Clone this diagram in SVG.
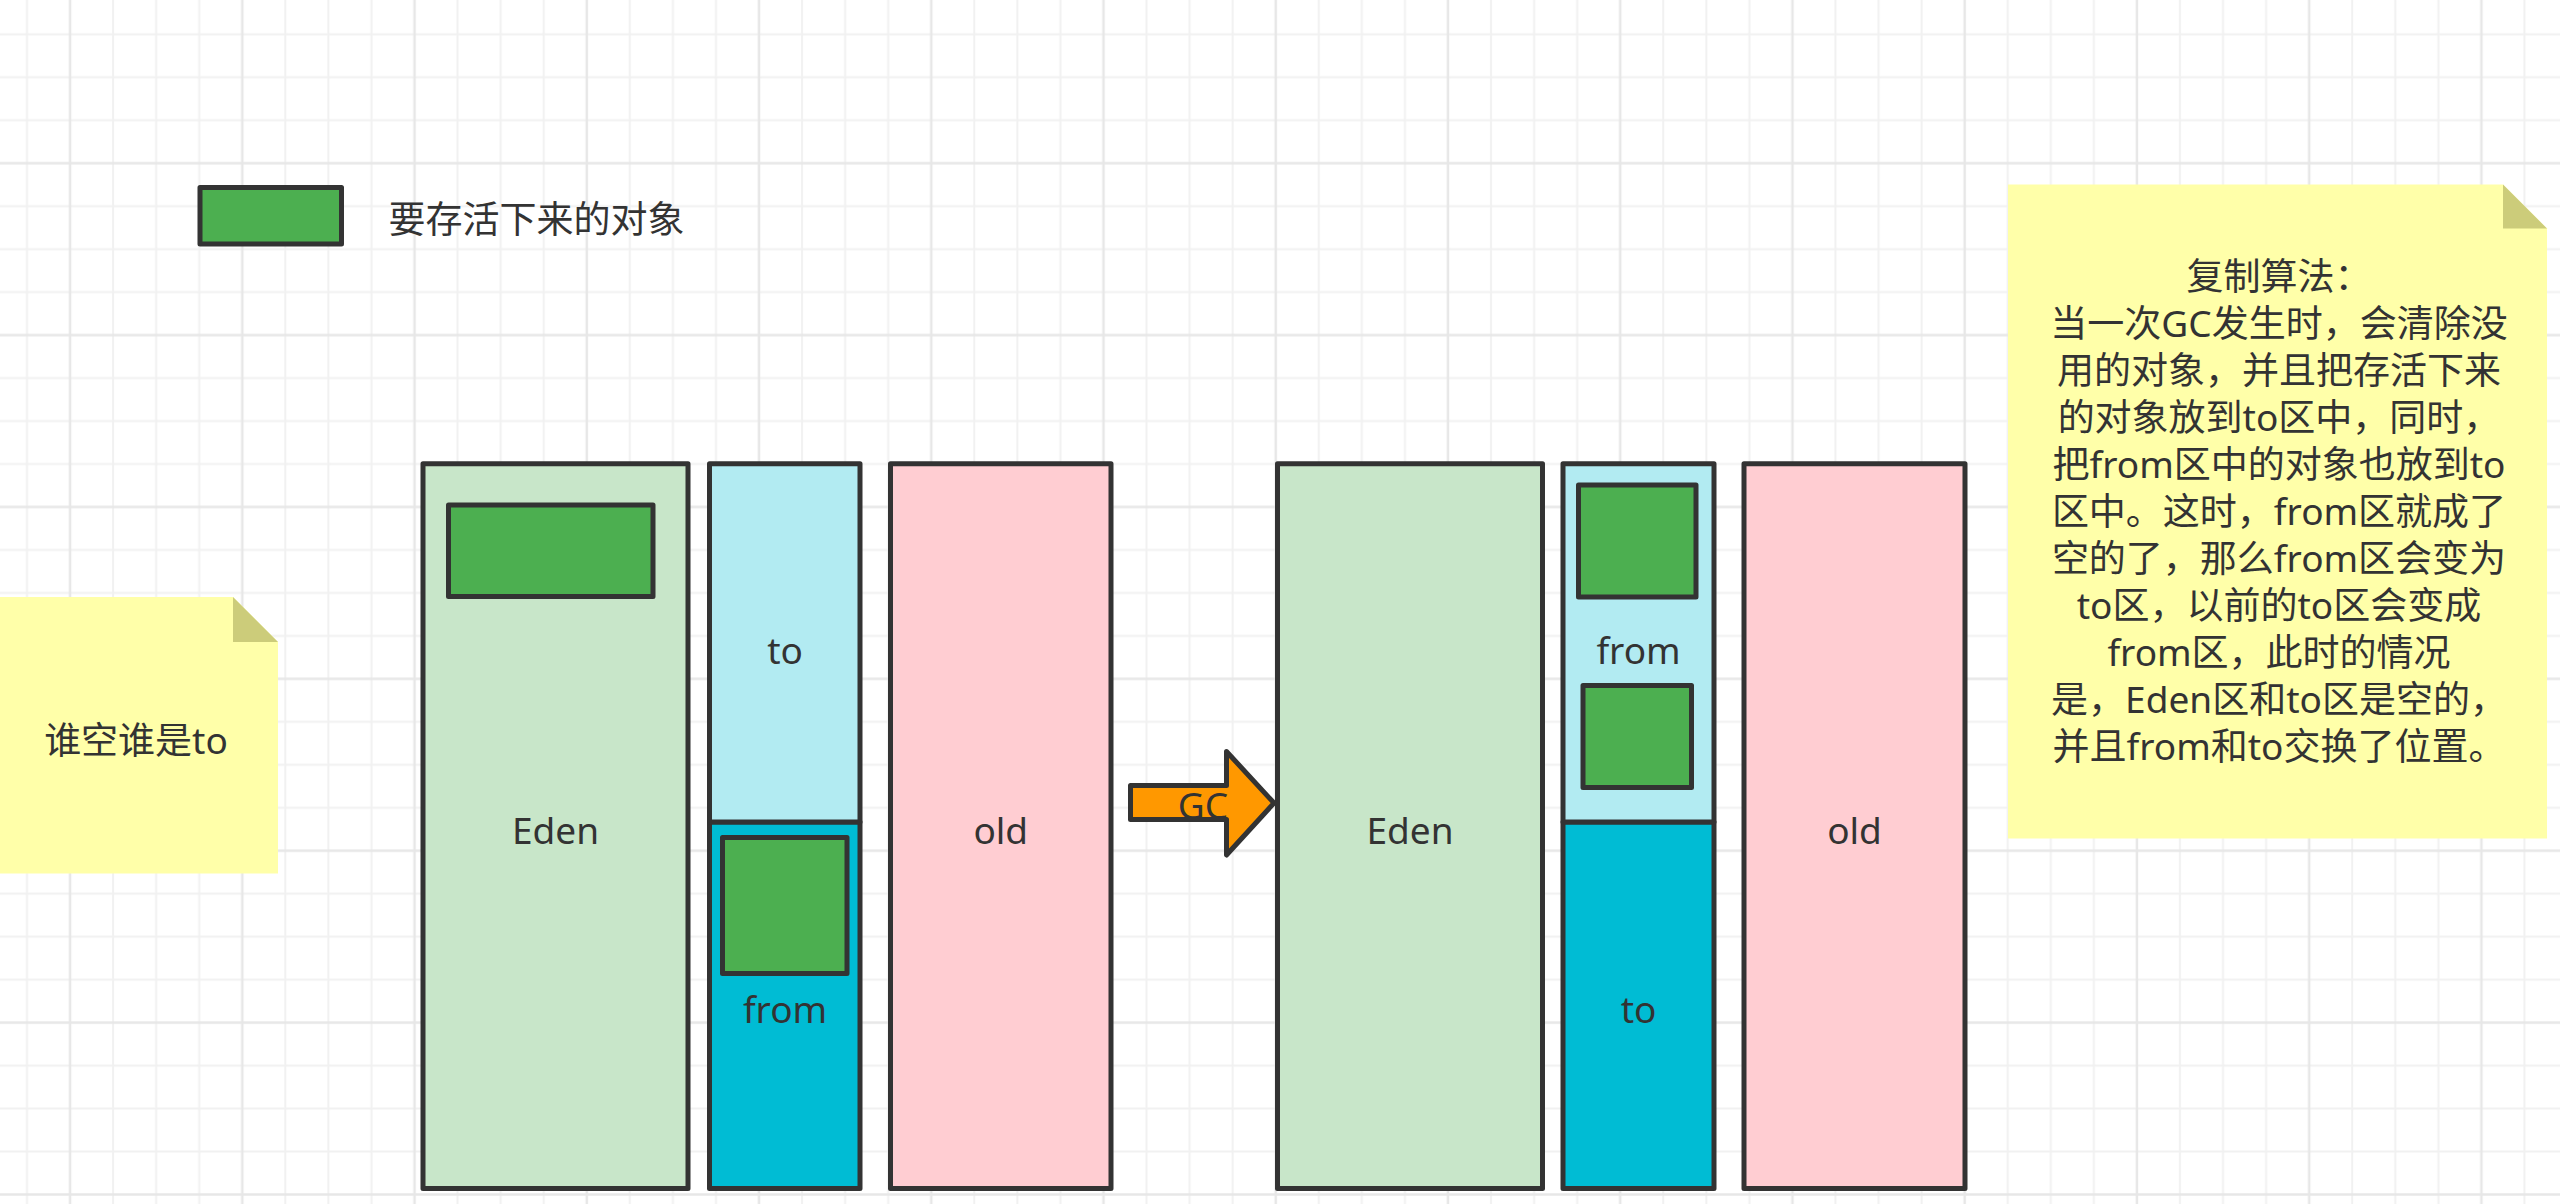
<svg xmlns="http://www.w3.org/2000/svg" width="2560" height="1204" viewBox="0 0 2560 1204">
  <defs>
    <pattern id="grid" patternUnits="userSpaceOnUse" x="5.47" y="12.815" width="172.24" height="171.88">
      <g stroke="#f1f1f1" stroke-width="2" fill="none">
        <line x1="21.53" y1="0" x2="21.53" y2="171.88"/>
        <line x1="107.65" y1="0" x2="107.65" y2="171.88"/>
        <line x1="150.71" y1="0" x2="150.71" y2="171.88"/>
        <line x1="0" y1="21.485" x2="172.24" y2="21.485"/>
        <line x1="0" y1="64.455" x2="172.24" y2="64.455"/>
        <line x1="0" y1="107.425" x2="172.24" y2="107.425"/>
      </g>
      <g stroke="#e7e7e7" stroke-width="2.5" fill="none">
        <line x1="64.59" y1="0" x2="64.59" y2="171.88"/>
        <line x1="0" y1="150.395" x2="172.24" y2="150.395"/>
      </g>
    </pattern>
  </defs>
  <style>
    .box { stroke: #333333; stroke-width: 5; stroke-linejoin: round; }
    .eden { fill: #c8e6c9; }
    .light { fill: #b2ebf2; }
    .dark { fill: #00bcd4; }
    .old { fill: #ffcdd2; }
    .obj { fill: #4caf50; }
    .note { fill: #ffffa9; }
    .fold { fill: #cccc7a; }
    .lbl { font-family: "Noto Sans", "Noto Sans CJK SC", sans-serif; font-size: 37px; fill: #333333; text-anchor: middle; }
    .txt { font-family: "Noto Sans", "Noto Sans CJK SC", sans-serif; font-size: 37px; fill: #333333; }
  </style>

  <rect x="0" y="0" width="2560" height="1204" fill="#ffffff"/>
  <rect x="0" y="0" width="2560" height="1204" fill="url(#grid)"/>

  <!-- legend -->
  <g id="legend">
    <rect class="box obj" x="200" y="187.5" width="141.5" height="56.5"/>
    <text class="txt" x="388.6" y="233">要存活下来的对象</text>
  </g>

  <!-- left note -->
  <g id="note-left">
    <path class="note" d="M-5,597 L233,597 L278,642 L278,873.5 L-5,873.5 Z"/>
    <path class="fold" d="M233,597 L233,642 L278,642 Z"/>
    <text class="lbl" x="136" y="754">谁空谁是to</text>
  </g>

  <!-- before GC -->
  <g id="eden-before">
    <rect class="box eden" x="423" y="463.7" width="265" height="724.8"/>
    <text class="lbl" x="555.5" y="844">Eden</text>
  </g>
  <g id="obj-eden-before">
    <rect class="box obj" x="448.5" y="505" width="204.5" height="91.5"/>
  </g>
  <g id="from-before">
    <rect class="box dark" x="709.5" y="822" width="150.5" height="366.5"/>
    <text class="lbl" x="785" y="1023">from</text>
  </g>
  <g id="to-before">
    <rect class="box light" x="709.5" y="463.7" width="150.5" height="358.3"/>
    <text class="lbl" x="785" y="664">to</text>
  </g>
  <g id="obj-from-before">
    <rect class="box obj" x="722.5" y="837.5" width="124.5" height="136"/>
  </g>
  <g id="old-before">
    <rect class="box old" x="890.5" y="463.7" width="220.5" height="724.8"/>
    <text class="lbl" x="1000.75" y="844">old</text>
  </g>

  <!-- after GC -->
  <g id="eden-after">
    <rect class="box eden" x="1277.5" y="463.7" width="265" height="724.8"/>
    <text class="lbl" x="1410" y="844">Eden</text>
  </g>
  <g id="to-after">
    <rect class="box dark" x="1563" y="822" width="151" height="366.5"/>
    <text class="lbl" x="1638.5" y="1023">to</text>
  </g>
  <g id="from-after">
    <rect class="box light" x="1563" y="463.7" width="151" height="358.3"/>
    <text class="lbl" x="1638.5" y="664">from</text>
  </g>
  <g id="obj-from-after-1">
    <rect class="box obj" x="1578.5" y="485" width="117.5" height="112"/>
  </g>
  <g id="obj-from-after-2">
    <rect class="box obj" x="1583" y="685.5" width="108.5" height="102"/>
  </g>
  <g id="old-after">
    <rect class="box old" x="1744" y="463.7" width="221" height="724.8"/>
    <text class="lbl" x="1854.5" y="844">old</text>
  </g>

  <!-- right note -->
  <g id="note-right">
    <path class="note" d="M2008,184.5 L2503,184.5 L2547,228.5 L2547,838.5 L2008,838.5 Z"/>
    <path class="fold" d="M2503,184.5 L2503,228.5 L2547,228.5 Z"/>
    <text class="lbl" x="2279" y="290">复制算法：</text>
    <text class="lbl" x="2279" y="337">当一次GC发生时，会清除没</text>
    <text class="lbl" x="2279" y="384">用的对象，并且把存活下来</text>
    <text class="lbl" x="2279" y="431">的对象放到to区中，同时，</text>
    <text class="lbl" x="2279" y="478">把from区中的对象也放到to</text>
    <text class="lbl" x="2279" y="525">区中。这时，from区就成了</text>
    <text class="lbl" x="2279" y="572">空的了，那么from区会变为</text>
    <text class="lbl" x="2279" y="619">to区，以前的to区会变成</text>
    <text class="lbl" x="2279" y="666">from区，此时的情况</text>
    <text class="lbl" x="2279" y="713">是，Eden区和to区是空的，</text>
    <text class="lbl" x="2279" y="760">并且from和to交换了位置。</text>
  </g>

  <!-- connectors -->
  <g id="connectors">
    <path class="box" fill="#ff9800" d="M1130.5,785.5 L1226.5,785.5 L1226.5,751.5 L1274,803 L1226.5,855 L1226.5,819.5 L1130.5,819.5 Z"/>
    <text class="lbl" x="1203" y="819">GC</text>
  </g>
</svg>
